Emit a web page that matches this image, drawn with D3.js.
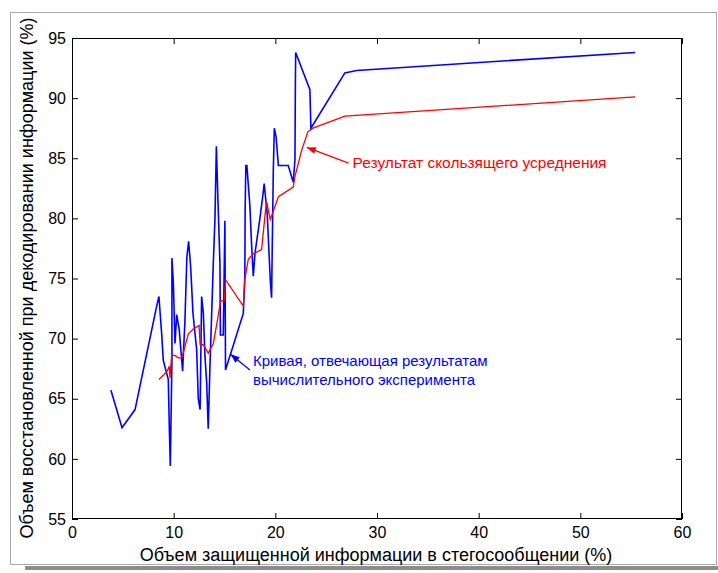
<!DOCTYPE html>
<html>
<head>
<meta charset="utf-8">
<script src="https://cdn.jsdelivr.net/npm/d3@7"></script>
<style>
  body { margin: 0; background: #fff; }
  svg { display: block; font-family: "Liberation Sans", Arial, sans-serif; }
  .axis text { font-size: 16px; fill: #000; }
  .axis line, .axis path { stroke: #000; }
</style>
</head>
<body>
<script>

// blue curve: results of the computational experiment
var expX = [3.83,4.92,6.2,8.33,8.55,8.82,8.98,9.47,9.57,9.67,9.83,9.83,9.97,10.13,10.3,10.55,10.88,11.1,11.3,11.47,11.67,11.9,12.26,12.42,12.6,12.75,12.92,13.08,13.25,13.4,13.57,13.74,13.9,14.06,14.2,14.37,14.55,14.6,14.88,15.04,15.1,16.85,17.0,17.03,17.1,17.2,17.5,17.67,17.83,18.0,18.5,18.8,18.9,19.2,19.5,19.63,19.8,19.9,20.07,20.3,21.27,21.76,21.93,21.97,22.0,23.4,23.5,26.84,28.0,55.4];
var expY = [65.7,62.6,64.1,72.7,73.5,70.4,68.2,66.6,62.7,59.4,68.2,76.7,74.6,69.6,72.0,70.7,67.3,71.3,76.8,78.1,76.0,72.1,69.1,65.0,64.1,73.5,72.1,68.5,66.3,62.5,67.7,72.1,76.3,79.9,86.0,81.1,76.3,70.3,70.3,79.8,67.4,72.1,75.2,80.7,84.4,84.4,81.0,77.7,75.2,77.1,80.1,82.1,82.9,80.4,74.9,73.4,84.0,87.5,86.8,84.4,84.4,83.0,84.9,91.0,93.8,90.7,87.5,92.1,92.3,93.8];

// red curve: moving average
var avgX = [8.55,9.37,9.57,9.63,9.8,10.13,10.45,10.8,11.1,11.44,11.93,12.5,12.6,12.92,13.4,13.9,14.4,14.6,14.98,15.1,16.85,17.0,17.34,17.83,18.65,19.0,19.14,19.5,19.8,20.3,21.76,21.93,22.6,23.2,23.7,26.84,55.4];
var avgY = [66.6,67.3,67.7,66.7,68.6,68.6,68.4,68.4,69.3,70.4,70.8,71.1,69.5,69.5,68.8,69.6,72.0,73.1,73.2,74.9,72.7,74.9,76.6,77.05,77.4,80.4,81.4,79.9,80.6,81.8,82.6,83.5,85.7,87.2,87.5,88.5,90.1];

var xTicks = [0,10,20,30,40,50,60];
var yTicks = [55,60,65,70,75,80,85,90,95];

var xTitle = "Объем защищенной информации в стегосообщении (%)";
var yTitle = "Объем восстановленной при декодировании информации (%)";
var redNote = ["Результат скользящего усреднения"];
var blueNote = ["Кривая, отвечающая результатам", "вычислительного эксперимента"];

var W = 718, H = 573;
var plotL = 72, plotT = 38, plotR = 682, plotB = 519;

var svg = d3.select("body").append("svg")
    .attr("width", W)
    .attr("height", H);

// figure frame with shadow
svg.append("rect")
    .attr("x", 25).attr("y", 566)
    .attr("width", 693).attr("height", 4)
    .attr("fill", "#8c8c8c");
svg.append("rect")
    .attr("x", 10.5).attr("y", 12.5)
    .attr("width", 706).attr("height", 552)
    .attr("fill", "none")
    .attr("stroke", "#a8a8a8");

var x = d3.scaleLinear().domain([0, 60]).range([plotL, plotR]);
var y = d3.scaleLinear().domain([55, 95]).range([plotB, plotT]);

svg.append("g")
    .attr("class", "axis")
    .attr("transform", "translate(0," + plotB + ")")
    .call(d3.axisBottom(x).tickValues(xTicks).tickSize(-6).tickSizeOuter(0).tickPadding(8));
svg.append("g")
    .attr("class", "axis")
    .attr("transform", "translate(0," + plotT + ")")
    .call(d3.axisTop(x).tickValues(xTicks).tickSize(-6).tickSizeOuter(0).tickFormat(""));
svg.append("g")
    .attr("class", "axis")
    .attr("transform", "translate(" + plotL + ",0)")
    .call(d3.axisLeft(y).tickValues(yTicks).tickSize(-6).tickSizeOuter(0).tickPadding(6));
svg.append("g")
    .attr("class", "axis")
    .attr("transform", "translate(" + plotR + ",0)")
    .call(d3.axisRight(y).tickValues(yTicks).tickSize(-6).tickSizeOuter(0).tickFormat(""));

svg.selectAll(".axis .domain").remove();

svg.append("rect")
    .attr("x", plotL + 0.5).attr("y", plotT + 0.5)
    .attr("width", plotR - plotL - 1).attr("height", plotB - plotT - 1)
    .attr("fill", "none")
    .attr("stroke", "#000");

var line = d3.line()
    .x(function(d) { return x(d[0]); })
    .y(function(d) { return y(d[1]); });

var expData = expX.map(function(v, i) { return [v, expY[i]]; });
var avgData = avgX.map(function(v, i) { return [v, avgY[i]]; });

svg.append("path")
    .datum(expData)
    .attr("d", line)
    .attr("fill", "none")
    .attr("stroke", "#0000ff")
    .attr("stroke-width", 1.6);

svg.append("path")
    .datum(avgData)
    .attr("d", line)
    .attr("fill", "none")
    .attr("stroke", "#ff0000")
    .attr("stroke-width", 1.3);

// axis titles
svg.append("text")
    .attr("x", 376)
    .attr("y", 561)
    .attr("text-anchor", "middle")
    .style("font-size", "18px")
    .text(xTitle);

svg.append("text")
    .attr("transform", "translate(33," + 278 + ") rotate(-90)")
    .attr("text-anchor", "middle")
    .style("font-size", "18px")
    .text(yTitle);

// annotations with arrows
var arrow = function(x1, y1, x2, y2, color) {
  svg.append("line")
      .attr("x1", x1).attr("y1", y1)
      .attr("x2", x2).attr("y2", y2)
      .attr("stroke", color)
      .attr("stroke-width", 1.3);
  var a = Math.atan2(y2 - y1, x2 - x1);
  var L = 9, w = 3.5;
  var bx = x2 - L * Math.cos(a), by = y2 - L * Math.sin(a);
  var pts = [[x2, y2],
             [bx + w * Math.sin(a), by - w * Math.cos(a)],
             [bx - w * Math.sin(a), by + w * Math.cos(a)]];
  svg.append("polygon")
      .attr("points", pts.map(function(p) { return p.join(","); }).join(" "))
      .attr("fill", color);
};

arrow(x(27.2), y(84.6), x(23.1), y(85.9), "#ff0000");
svg.append("text")
    .attr("x", x(27.6)).attr("y", y(84.6) + 5)
    .attr("fill", "#ff0000")
    .style("font-size", "15.5px")
    .text(redNote[0]);

arrow(x(17.5), y(67.4), x(15.6), y(68.7), "#0000ff");
blueNote.forEach(function(t, i) {
  svg.append("text")
      .attr("x", x(17.8)).attr("y", y(68.1) + 5 + i * 19)
      .attr("fill", "#0000ff")
      .style("font-size", "15px")
      .text(t);
});

</script>
</body>
</html>
